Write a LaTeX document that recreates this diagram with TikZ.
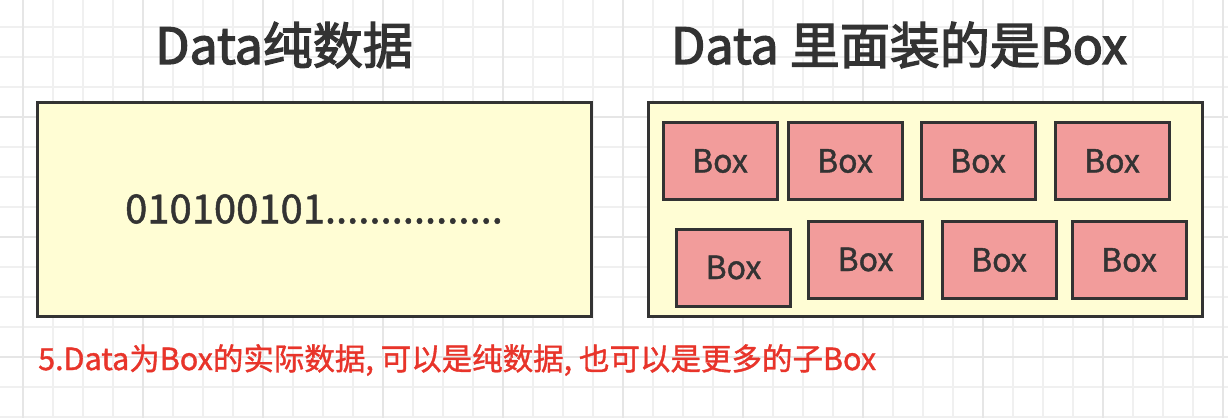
\documentclass[tikz,border=0pt]{standalone}
\usepackage{fontspec}
\setmainfont{Noto Sans CJK SC}
\newfontfamily\medfont[FakeBold=1.2]{Noto Sans CJK SC}
\newfontfamily\semifont[FakeBold=2.6]{Noto Sans CJK SC}
\definecolor{gridminor}{HTML}{F0F0F0}
\definecolor{gridmajor}{HTML}{E6E6E6}
\definecolor{boxfill}{HTML}{FFFDD4}
\definecolor{pinkfill}{HTML}{F29C9B}
\definecolor{edge}{HTML}{333333}
\definecolor{txt}{HTML}{333333}
\definecolor{capred}{HTML}{E8342A}
\tikzset{
  panel/.style={draw=edge, line width=3pt, fill=boxfill, rectangle, inner sep=0pt,
    minimum width=554pt, minimum height=214pt},
  smallbox/.style={draw=edge, line width=3pt, fill=pinkfill, rectangle, inner sep=0pt,
    minimum width=114pt, minimum height=77pt, text=txt,
    font=\medfont\fontsize{32pt}{38pt}\selectfont},
  title/.style={text=txt, inner sep=0pt, font=\semifont\fontsize{50pt}{58pt}\selectfont},
}
\begin{document}
\begin{tikzpicture}[x=1pt,y=-1pt]
\useasboundingbox (0,0) rectangle (1228,418);
\fill[white] (0,0) rectangle (1228,418);
% grid
\foreach \gx in {23,53,...,1228} \draw[gridminor, line width=1.5pt] (\gx,0) -- (\gx,418);
\foreach \gy in {27,57,...,418} \draw[gridminor, line width=1.5pt] (0,\gy) -- (1228,\gy);
\foreach \gx in {23,143,...,1228} \draw[gridmajor, line width=1.5pt] (\gx,0) -- (\gx,418);
\foreach \gy in {117,237,357} \draw[gridmajor, line width=1.5pt] (0,\gy) -- (1228,\gy);
% titles
\node[title] (t1) at (284,45) {Data纯数据};
\node[title] (t2) at (899,45) {Data 里面装的是Box};
% left panel
\node[panel, text=txt, font=\medfont\fontsize{40pt}{46pt}\selectfont] (left) at (314,209) {010100101................};
% right panel
\node[panel] (right) at (925,209) {};
\node[smallbox] (b1) at (720,161) {Box};
\node[smallbox] (b2) at (845,161) {Box};
\node[smallbox] (b3) at (978,161) {Box};
\node[smallbox] (b4) at (1112,161) {Box};
\node[smallbox] (b5) at (733.5,267.5) {Box};
\node[smallbox] (b6) at (865.5,259.5) {Box};
\node[smallbox] (b7) at (999,260) {Box};
\node[smallbox] (b8) at (1129,260) {Box};
% caption
\node[anchor=west, inner sep=0pt, text=capred, font=\medfont\fontsize{30.5pt}{36pt}\selectfont] (cap) at (38,360) {5.Data为Box的实际数据, 可以是纯数据, 也可以是更多的子Box};
\end{tikzpicture}
\end{document}
